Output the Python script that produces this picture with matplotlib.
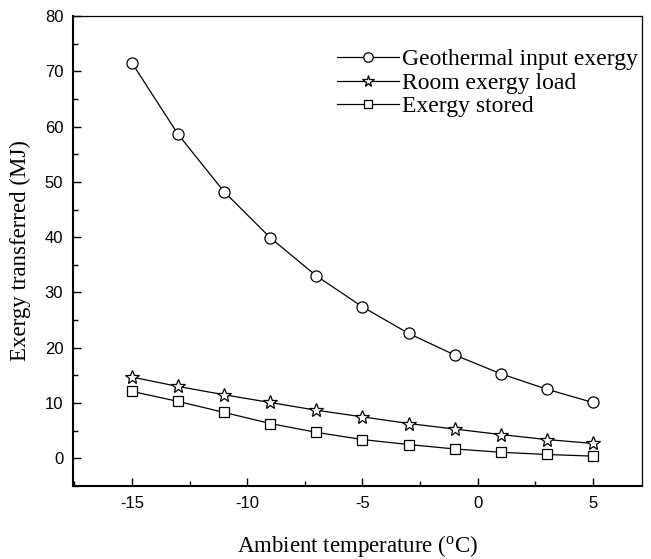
import matplotlib.pyplot as plt
from matplotlib.ticker import MultipleLocator

plt.rcParams['axes.unicode_minus'] = False

# Ambient temperature (C)
temps = [-15, -13, -11, -9, -7, -5, -3, -1, 1, 3, 5]

# Exergy values (MJ)
geothermal_input = [71.5, 58.6, 48.2, 39.9, 33.0, 27.4, 22.6, 18.7, 15.3, 12.5, 10.1]
room_load = [14.7, 13.0, 11.5, 10.1, 8.7, 7.5, 6.3, 5.3, 4.3, 3.4, 2.7]
exergy_stored = [12.1, 10.3, 8.3, 6.3, 4.7, 3.4, 2.5, 1.7, 1.1, 0.7, 0.4]

serif = 'Liberation Serif'
sans = 'Liberation Sans'

fig = plt.figure(figsize=(6.51, 5.59), dpi=100)
ax = fig.add_axes([0.1121, 0.1306, 0.8741, 0.8408])

ax.plot(temps, geothermal_input, '-o', color='black', lw=0.9, ms=8,
        mfc='white', mec='black', mew=0.9, label='Geothermal input exergy')
ax.plot(temps, room_load, '-*', color='black', lw=0.9, ms=10,
        mfc='white', mec='black', mew=0.9, label='Room exergy load')
ax.plot(temps, exergy_stored, '-s', color='black', lw=0.9, ms=7.5,
        mfc='white', mec='black', mew=0.9, label='Exergy stored')

ax.set_xlim(-17.56, 7.13)
ax.set_ylim(-5, 80)
ax.xaxis.set_major_locator(MultipleLocator(5))
ax.xaxis.set_minor_locator(MultipleLocator(2.5))
ax.set_yticks(range(0, 81, 10))
ax.yaxis.set_minor_locator(MultipleLocator(5))

ax.tick_params(which='both', direction='in', top=False, right=False, width=1.0)
ax.tick_params(which='major', length=6, labelsize=12, pad=7)
ax.tick_params(which='minor', length=3.5)
for lab in ax.get_xticklabels() + ax.get_yticklabels():
    lab.set_fontfamily(sans)
ax.spines['left'].set_linewidth(1.5)
ax.spines['bottom'].set_linewidth(1.5)
ax.spines['top'].set_linewidth(0.9)
ax.spines['right'].set_linewidth(0.9)

ax.set_xlabel('Ambient temperature ($\\mathregular{^o}$C)', fontfamily=serif,
              fontsize=16.5, labelpad=16)
ax.set_ylabel('Exergy transferred (MJ)', fontfamily=serif, fontsize=16.5, labelpad=10)

ax.legend(loc='upper right', frameon=False, prop={'family': serif, 'size': 17},
          handlelength=2.6, handletextpad=0.15, labelspacing=0.08,
          borderaxespad=0.0, bbox_to_anchor=(1.01, 0.95), markerscale=0.85)

fig.savefig('out.png', dpi=100)
